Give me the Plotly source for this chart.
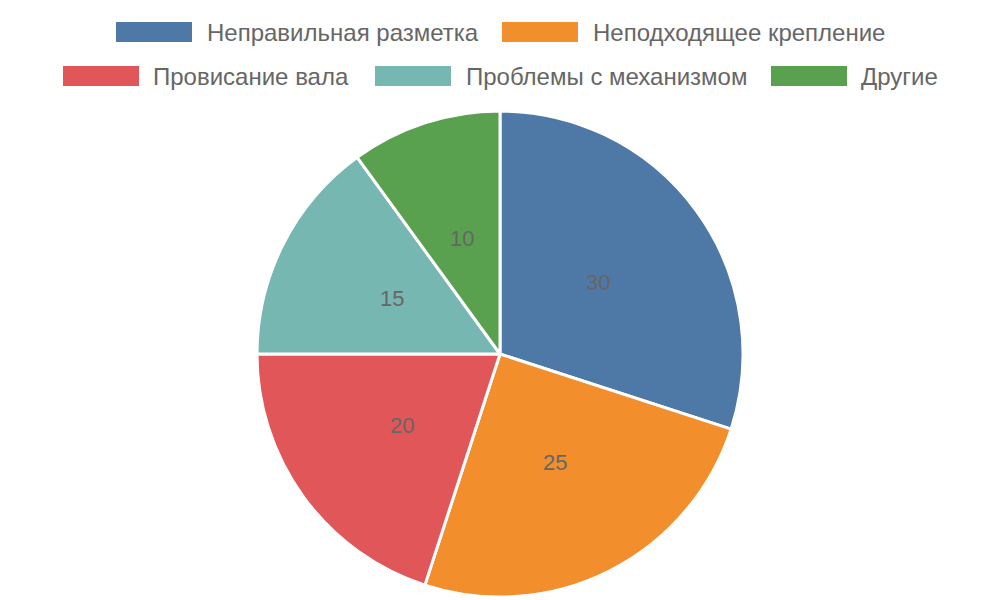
import math
import plotly.graph_objects as go

categories = ["Неправильная разметка", "Неподходящее крепление", "Провисание вала",
              "Проблемы с механизмом", "Другие"]
values = [30, 25, 20, 15, 10]
colors = ["#4e79a7", "#f28e2b", "#e15759", "#76b7b2", "#59a14f"]

W, H = 1000, 600
FONT = "Liberation Sans, Arial, sans-serif"
GREY = "#666666"

dom_y = [3 / H, 489 / H]

fig = go.Figure(go.Pie(
    labels=categories, values=values, sort=False, direction="clockwise", rotation=0,
    marker=dict(colors=colors, line=dict(color="white", width=3)),
    textinfo="none", hoverinfo="label+value", showlegend=False,
    domain=dict(x=[0, 1], y=dom_y),
))

# value labels at mid-radius of each slice
cx, cy = 0.5, (dom_y[0] + dom_y[1]) / 2
r_px = (dom_y[1] - dom_y[0]) * H / 2
total = sum(values)
cum = 0
annotations = []
for v in values:
    mid = (cum + v / 2) / total * 2 * math.pi
    cum += v
    dx = math.sin(mid) * r_px * 0.5
    dy = math.cos(mid) * r_px * 0.5
    annotations.append(dict(x=cx + dx / W, y=cy + dy / H, xref="paper", yref="paper",
                            xanchor="center", yanchor="middle",
                            text=str(v), showarrow=False,
                            font=dict(family=FONT, size=22, color=GREY)))

# custom legend with wide boxes (Chart.js style)
legend_rows = [
    [(0, 116, 205), (1, 502, 591)],
    [(2, 63, 151), (3, 375, 464), (4, 771, 859)],
]
row_y = [32, 76]
shapes = []
for row, yc in zip(legend_rows, row_y):
    for idx, bx, tx in row:
        shapes.append(dict(type="rect", xref="paper", yref="paper",
                           x0=bx / W, x1=(bx + 76) / W,
                           y0=1 - (yc - 10) / H, y1=1 - (yc + 10) / H,
                           fillcolor=colors[idx], line=dict(width=0)))
        annotations.append(dict(x=tx / W, y=1 - yc / H, xref="paper", yref="paper",
                                text=categories[idx], showarrow=False,
                                xanchor="left", yanchor="middle",
                                font=dict(family=FONT, size=24, color=GREY)))

fig.update_layout(
    width=W, height=H, margin=dict(l=0, r=0, t=0, b=0),
    paper_bgcolor="white", plot_bgcolor="white",
    annotations=annotations, shapes=shapes,
)

fig.write_html("out.html", config={"displayModeBar": False},
               post_script="document.body.style.margin='0';")
